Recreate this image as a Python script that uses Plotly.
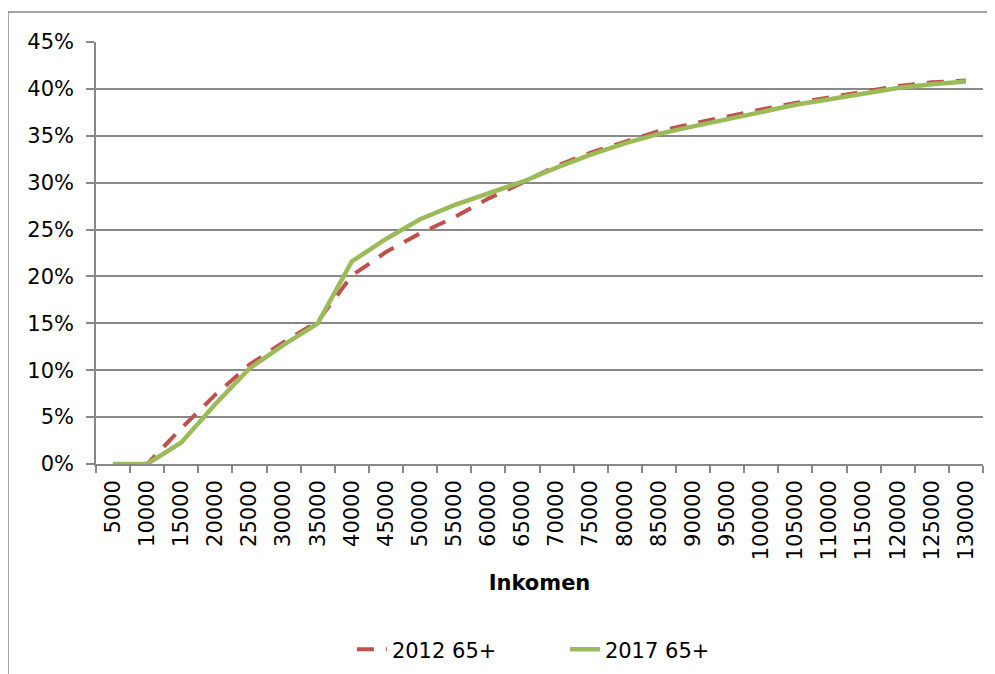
import plotly.graph_objects as go

categories = [str(v) for v in range(5000, 130001, 5000)]
series_2012 = [0, 0, 3.8, 7.4, 10.6, 13.0, 15.2, 20.1, 22.6, 24.6, 26.3, 28.3, 30.0,
               31.8, 33.2, 34.4, 35.5, 36.3, 37.1, 37.8, 38.5, 39.1, 39.7, 40.3, 40.7, 40.9]
series_2017 = [0, 0, 2.3, 6.4, 10.2, 12.7, 15.0, 21.6, 24.0, 26.1, 27.6, 28.8, 30.1,
               31.6, 33.0, 34.2, 35.2, 36.0, 36.8, 37.6, 38.3, 38.9, 39.5, 40.1, 40.5, 40.8]
names = ["2012 65+", "2017 65+"]

FONT = "DejaVu Sans, Verdana, sans-serif"
GRID = "#888888"
FS = 21

fig = go.Figure()
fig.add_trace(go.Scatter(
    x=categories, y=[v / 100 for v in series_2012], name=names[0], mode="lines",
    line=dict(color="#C0504D", width=4, dash="17px,12px"),
))
fig.add_trace(go.Scatter(
    x=categories, y=[v / 100 for v in series_2017], name=names[1], mode="lines",
    line=dict(color="#9BBB59", width=4.5),
))

fig.update_layout(
    width=987, height=666,
    margin=dict(l=88, r=12, t=34, b=209.5, autoexpand=False),
    paper_bgcolor="white", plot_bgcolor="white",
    font=dict(family=FONT, size=FS, color="black"),
    showlegend=True,
    legend=dict(
        orientation="h", x=0.2885, xanchor="left", y=-0.44, yanchor="middle",
        font=dict(family=FONT, size=FS, color="black"),
        entrywidth=168, bgcolor="rgba(0,0,0,0)",
    ),
    xaxis=dict(
        type="category", range=[-0.5, 25.5], automargin=False,
        tickangle=-90, tickson="boundaries",
        ticks="outside", ticklen=7, tickcolor=GRID, tickwidth=1.5,
        showline=True, linecolor=GRID, linewidth=1.5,
        showgrid=False, ticklabelstandoff=6,
        tickfont=dict(family=FONT, size=FS),
        title=dict(text="<b>Inkomen</b>", font=dict(family=FONT, size=FS), standoff=16),
    ),
    yaxis=dict(
        range=[0, 0.45], dtick=0.05, tickformat=".0%", automargin=False,
        ticks="outside", ticklen=8, tickcolor=GRID, tickwidth=1.5,
        showline=True, linecolor=GRID, linewidth=1.5,
        showgrid=True, gridcolor=GRID, gridwidth=1.5,
        zeroline=False, ticklabelstandoff=8,
        tickfont=dict(family=FONT, size=FS),
    ),
    shapes=[dict(
        type="rect", xref="paper", yref="paper",
        x0=-88 / 887, x1=1.05, y0=-0.6, y1=1 + 30 / 422.5,
        line=dict(color=GRID, width=1.5), fillcolor="rgba(0,0,0,0)", layer="below",
    )],
)

fig.write_html("out.html")
